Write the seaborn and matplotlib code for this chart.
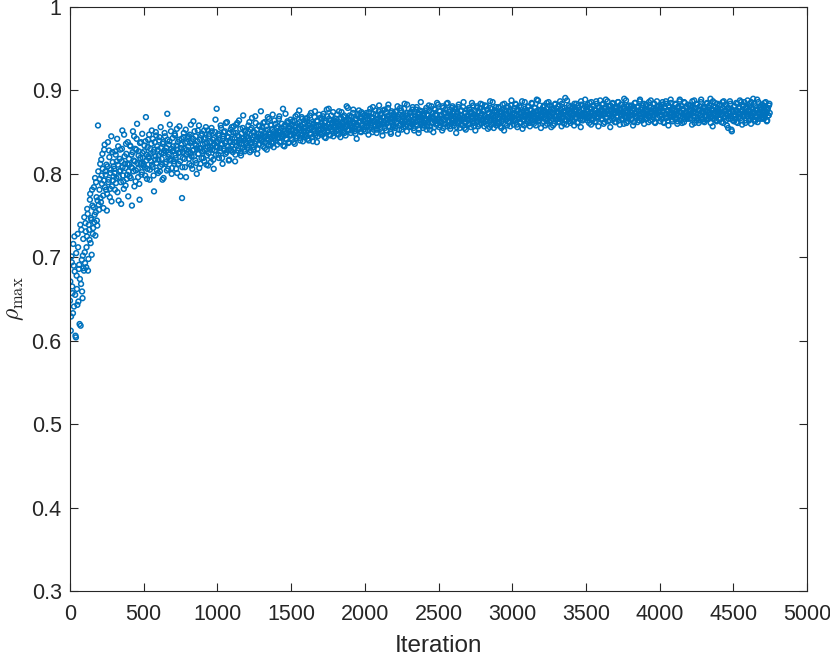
import numpy as np
import pandas as pd
import matplotlib
matplotlib.use("Agg")
import matplotlib.pyplot as plt
import seaborn as sns

# rho_max (in thousandths), one value every 5 iterations,
# first pass starting at iteration 0, second pass starting at iteration 2
step = 5
rho_0000 = [648, 612, 701, 665, 633, 690, 725, 655, 604, 678, 643, 712, 686, 620, 739, 668, 697, 651, 722, 684,
            706, 741, 688, 725, 752, 698, 733, 769, 717, 745, 781, 728, 760, 742, 795, 754, 772, 738, 858, 763,
            781, 812, 766, 798, 824, 774, 792, 835, 803, 781, 756, 809, 790, 828, 772, 801, 845, 785, 814, 797,
            806, 781, 823, 795, 842, 811, 768, 803, 829, 790, 815, 852, 798, 782, 821, 807, 836, 794, 812, 773,
            818, 797, 833, 808, 762, 826, 803, 845, 815, 791, 829, 860, 806, 822, 788, 837, 812, 799, 848, 819]
rho_0500 = [812, 834, 798, 868, 823, 806, 841, 819, 793, 830, 815, 852, 808, 826, 779, 838, 821, 846, 804, 829,
            817, 840, 803, 856, 825, 811, 836, 795, 828, 845, 814, 831, 872, 806, 823, 839, 818, 851, 800, 827,
            833, 815, 848, 822, 806, 854, 829, 812, 841, 826, 797, 835, 771, 819, 844, 830, 808, 853, 824, 838,
            826, 845, 812, 837, 859, 821, 806, 842, 829, 851, 816, 834, 800, 839, 824, 858, 830, 812, 846, 827,
            835, 819, 852, 828, 843, 811, 837, 852, 825, 848, 832, 814, 855, 829, 841, 806, 836, 850, 823, 878]
rho_1000 = [832, 848, 819, 841, 827, 855, 836, 812, 845, 830, 851, 824, 839, 862, 829, 844, 817, 838, 853, 833,
            842, 826, 857, 838, 815, 849, 834, 861, 828, 845, 837, 854, 822, 843, 831, 870, 840, 827, 852, 836,
            845, 831, 858, 840, 826, 853, 838, 867, 844, 829, 850, 836, 861, 842, 824, 848, 835, 857, 843, 875,
            840, 856, 833, 849, 862, 838, 845, 829, 853, 841, 866, 847, 834, 858, 844, 871, 837, 851, 843, 860,
            848, 835, 857, 843, 869, 850, 839, 855, 844, 878, 846, 833, 859, 849, 841, 863, 852, 838, 856, 847]
rho_1500 = [852, 841, 863, 848, 857, 836, 869, 851, 845, 860, 854, 876, 843, 858, 849, 866, 839, 855, 861, 847,
            856, 845, 867, 852, 840, 861, 849, 873, 855, 844, 859, 851, 868, 846, 857, 838, 863, 853, 871, 849,
            858, 847, 866, 854, 872, 850, 861, 843, 857, 869, 852, 878, 855, 846, 864, 851, 860, 874, 849, 862,
            855, 866, 848, 861, 853, 875, 858, 844, 867, 856, 862, 850, 870, 857, 846, 864, 859, 879, 852, 865,
            860, 849, 868, 856, 873, 861, 851, 865, 857, 842, 869, 858, 876, 854, 863, 850, 867, 859, 872, 856]
rho_2000 = [862, 851, 870, 858, 866, 847, 874, 860, 855, 868, 861, 880, 853, 864, 859, 871, 849, 866, 857, 875,
            863, 854, 872, 860, 846, 868, 859, 877, 864, 852, 869, 861, 883, 857, 866, 850, 873, 862, 856, 870,
            864, 855, 875, 861, 869, 848, 866, 858, 879, 863, 853, 871, 860, 867, 884, 857, 865, 851, 873, 862,
            866, 856, 874, 863, 859, 880, 865, 852, 870, 862, 877, 858, 868, 849, 872, 864, 886, 860, 867, 855,
            869, 858, 876, 864, 853, 871, 862, 882, 866, 857, 874, 861, 868, 850, 878, 863, 870, 859, 885, 865]
rho_2500 = [867, 856, 875, 862, 871, 852, 879, 865, 860, 873, 868, 884, 857, 870, 863, 877, 854, 869, 861, 881,
            866, 858, 874, 863, 849, 872, 861, 880, 867, 855, 876, 864, 870, 858, 886, 862, 873, 853, 869, 865,
            870, 859, 877, 864, 856, 874, 866, 882, 861, 871, 852, 868, 879, 863, 857, 875, 867, 884, 860, 872,
            865, 876, 857, 870, 863, 881, 868, 854, 873, 862, 887, 866, 859, 878, 869, 855, 874, 864, 880, 861,
            871, 860, 879, 866, 857, 875, 863, 883, 869, 852, 876, 865, 872, 858, 881, 867, 862, 877, 870, 888]
rho_3000 = [868, 876, 859, 872, 864, 883, 870, 856, 877, 866, 873, 861, 880, 869, 854, 875, 865, 886, 871, 860,
            874, 863, 881, 868, 857, 877, 870, 884, 862, 873, 866, 879, 858, 871, 867, 888, 864, 875, 869, 855,
            872, 861, 880, 867, 876, 858, 874, 885, 865, 871, 863, 882, 869, 856, 878, 866, 873, 860, 883, 870,
            869, 878, 862, 874, 866, 887, 871, 857, 880, 868, 875, 864, 891, 870, 859, 877, 867, 882, 873, 861,
            875, 864, 881, 870, 858, 877, 868, 884, 872, 862, 879, 869, 874, 856, 883, 871, 866, 878, 873, 889]
rho_3500 = [871, 880, 864, 875, 868, 885, 873, 859, 878, 867, 882, 870, 862, 876, 887, 869, 874, 857, 879, 872,
            876, 865, 883, 870, 860, 878, 872, 889, 867, 875, 863, 881, 871, 856, 877, 869, 884, 873, 866, 880,
            873, 862, 879, 868, 886, 874, 859, 877, 870, 883, 865, 872, 890, 868, 876, 861, 881, 874, 867, 878,
            870, 881, 866, 876, 858, 879, 872, 885, 869, 874, 862, 880, 871, 887, 867, 877, 864, 882, 873, 860,
            877, 866, 883, 871, 875, 862, 880, 869, 888, 873, 865, 878, 870, 884, 861, 876, 872, 881, 867, 874]
rho_4000 = [874, 863, 881, 870, 886, 876, 861, 879, 872, 884, 867, 875, 858, 880, 871, 889, 873, 865, 878, 869,
            876, 866, 883, 872, 860, 879, 870, 887, 874, 864, 881, 868, 877, 862, 885, 873, 869, 880, 866, 875,
            871, 882, 867, 876, 859, 880, 873, 888, 869, 878, 864, 883, 872, 861, 877, 870, 886, 874, 865, 879,
            873, 862, 880, 869, 884, 875, 866, 879, 871, 890, 868, 876, 857, 881, 872, 885, 870, 864, 878, 874,
            877, 865, 883, 871, 862, 879, 873, 887, 868, 876, 864, 881, 870, 855, 878, 872, 884, 866, 851, 875]
rho_4500 = [874, 863, 881, 870, 885, 876, 861, 879, 872, 888, 867, 875, 859, 882, 871, 886, 873, 864, 878, 869,
            876, 866, 884, 872, 860, 880, 870, 890, 874, 865, 881, 868, 877, 862, 886, 873, 869, 880, 866, 875,
            871, 882, 867, 876, 886, 873, 864, 879, 870, 884]

rho2_0000 = [671, 629, 694, 657, 716, 641, 683, 606, 705, 662, 728, 647, 691, 674, 618, 733, 659, 702, 687, 748,
             693, 731, 712, 758, 684, 739, 721, 776, 747, 703, 762, 735, 784, 751, 726, 790, 744, 768, 803, 757,
             794, 771, 817, 788, 806, 759, 829, 784, 799, 811, 776, 838, 793, 820, 782, 805, 767, 826, 792, 809,
             801, 827, 789, 815, 778, 833, 796, 818, 804, 764, 830, 808, 791, 847, 812, 786, 824, 799, 838, 803,
             811, 834, 795, 823, 807, 851, 816, 785, 830, 804, 842, 813, 796, 827, 769, 819, 838, 802, 825, 810]
rho2_0500 = [827, 808, 839, 816, 794, 832, 821, 847, 805, 824, 836, 811, 842, 798, 829, 817, 850, 813, 833, 801,
             822, 844, 809, 831, 818, 793, 838, 825, 849, 812, 827, 804, 841, 820, 835, 859, 816, 830, 807, 843,
             828, 812, 846, 819, 834, 801, 838, 825, 857, 815, 831, 842, 808, 826, 849, 818, 837, 796, 829, 844,
             833, 818, 847, 825, 810, 839, 828, 863, 821, 836, 845, 813, 830, 852, 824, 807, 841, 831, 819, 848,
             827, 842, 815, 836, 856, 822, 833, 810, 845, 829, 838, 820, 851, 834, 817, 843, 828, 865, 832, 839]
rho2_1000 = [838, 823, 846, 831, 858, 835, 819, 842, 850, 828, 837, 861, 826, 845, 833, 816, 849, 839, 828, 856,
             835, 850, 829, 843, 823, 859, 838, 846, 831, 864, 840, 825, 848, 836, 855, 843, 829, 851, 837, 845,
             849, 834, 843, 862, 837, 828, 855, 841, 850, 832, 846, 869, 839, 853, 830, 844, 858, 836, 847, 841,
             852, 838, 861, 845, 831, 848, 857, 842, 868, 835, 850, 844, 859, 837, 853, 846, 832, 864, 849, 840,
             855, 843, 850, 866, 838, 852, 845, 860, 848, 834, 857, 851, 872, 842, 849, 861, 837, 854, 846, 865]
rho2_1500 = [846, 859, 853, 838, 864, 850, 857, 843, 871, 848, 855, 862, 840, 852, 868, 846, 859, 851, 844, 866,
             851, 863, 842, 858, 854, 870, 847, 856, 862, 839, 860, 853, 875, 849, 857, 864, 845, 858, 852, 867,
             854, 861, 848, 869, 857, 844, 863, 855, 877, 850, 859, 866, 847, 856, 870, 853, 861, 845, 864, 858,
             862, 851, 871, 857, 847, 866, 859, 854, 874, 852, 860, 868, 849, 863, 856, 881, 858, 865, 853, 870,
             857, 869, 852, 863, 877, 855, 861, 848, 866, 859, 872, 854, 862, 867, 851, 874, 858, 864, 853, 870]
rho2_2000 = [865, 856, 873, 861, 852, 869, 864, 878, 858, 867, 850, 872, 862, 857, 876, 865, 853, 870, 861, 882,
             859, 871, 864, 851, 876, 862, 868, 855, 874, 860, 866, 879, 857, 870, 863, 848, 875, 866, 858, 872,
             868, 857, 874, 862, 881, 866, 853, 871, 860, 876, 864, 869, 856, 878, 863, 870, 859, 883, 867, 861,
             861, 873, 857, 869, 877, 862, 855, 874, 866, 859, 880, 864, 871, 853, 876, 868, 862, 875, 858, 870,
             872, 861, 866, 879, 857, 870, 864, 875, 853, 868, 881, 862, 873, 867, 856, 877, 864, 871, 860, 883]
rho2_2500 = [863, 875, 858, 870, 866, 881, 855, 872, 864, 877, 860, 869, 885, 862, 874, 857, 871, 866, 879, 864,
             872, 861, 878, 866, 856, 874, 869, 883, 863, 870, 859, 876, 865, 880, 868, 855, 873, 862, 877, 869,
             866, 879, 860, 873, 868, 885, 863, 871, 857, 876, 869, 862, 881, 866, 874, 859, 878, 870, 864, 883,
             875, 862, 870, 882, 865, 859, 877, 868, 872, 856, 879, 864, 871, 886, 867, 861, 876, 869, 858, 874,
             867, 880, 862, 874, 869, 855, 877, 866, 872, 884, 860, 871, 865, 879, 863, 874, 868, 857, 882, 866]
rho2_3000 = [872, 863, 879, 866, 884, 870, 859, 875, 868, 881, 862, 874, 867, 887, 865, 871, 858, 878, 869, 876,
             866, 880, 870, 861, 876, 872, 885, 864, 873, 860, 879, 868, 875, 889, 866, 871, 863, 882, 870, 877,
             869, 875, 863, 882, 871, 866, 878, 860, 873, 886, 868, 874, 864, 880, 872, 858, 877, 869, 884, 865,
             874, 866, 881, 870, 862, 877, 873, 884, 867, 871, 860, 879, 875, 865, 888, 869, 876, 863, 880, 872,
             867, 879, 871, 863, 884, 874, 868, 876, 861, 882, 870, 875, 866, 887, 872, 864, 878, 869, 881, 868]
rho2_3500 = [876, 867, 883, 872, 861, 879, 870, 886, 874, 865, 881, 869, 877, 863, 884, 873, 868, 880, 871, 888,
             870, 878, 866, 884, 873, 862, 880, 875, 868, 887, 871, 877, 864, 882, 874, 869, 885, 867, 876, 862,
             879, 869, 875, 886, 864, 877, 872, 883, 866, 874, 880, 860, 878, 871, 888, 868, 875, 863, 882, 870,
             874, 865, 882, 871, 878, 862, 885, 873, 867, 880, 870, 876, 864, 889, 872, 866, 879, 874, 884, 868,
             871, 883, 866, 877, 869, 886, 873, 864, 880, 875, 868, 884, 871, 862, 878, 873, 887, 867, 876, 881]
rho2_4000 = [869, 878, 866, 883, 874, 862, 880, 871, 887, 868, 876, 864, 882, 873, 869, 885, 877, 863, 879, 870,
             872, 884, 867, 876, 863, 881, 875, 889, 869, 873, 861, 878, 871, 886, 866, 880, 874, 868, 883, 870,
             877, 866, 882, 872, 887, 869, 875, 861, 879, 873, 884, 867, 876, 864, 881, 871, 889, 868, 875, 863,
             880, 870, 876, 865, 885, 873, 867, 882, 874, 861, 878, 869, 887, 872, 866, 880, 875, 863, 884, 871,
             873, 882, 866, 877, 870, 886, 861, 875, 868, 883, 872, 858, 879, 866, 874, 887, 869, 853, 877, 864]
rho2_4500 = [870, 881, 866, 876, 862, 884, 873, 868, 879, 871, 886, 864, 877, 869, 882, 874, 861, 880, 872, 888,
             875, 864, 881, 870, 886, 867, 878, 872, 884, 863, 876, 869, 889, 873, 866, 880, 871, 877, 883, 868,
             874, 866, 885, 871, 879, 863, 877, 870, 882, 873]

starts = [0, 500, 1000, 1500, 2000, 2500, 3000, 3500, 4000, 4500]
pass_1 = [rho_0000, rho_0500, rho_1000, rho_1500, rho_2000,
          rho_2500, rho_3000, rho_3500, rho_4000, rho_4500]
pass_2 = [rho2_0000, rho2_0500, rho2_1000, rho2_1500, rho2_2000,
          rho2_2500, rho2_3000, rho2_3500, rho2_4000, rho2_4500]

frames = []
for offset, block in [(0, pass_1), (2, pass_2)]:
    for start, vals in zip(starts, block):
        it = start + offset + step * np.arange(len(vals))
        frames.append(pd.DataFrame({"Iteration": it, "rho": np.array(vals) / 1000.0}))
df = pd.concat(frames, ignore_index=True).sort_values("Iteration")

sns.set_style("ticks")
plt.rcParams["font.family"] = ["Liberation Sans", "DejaVu Sans"]
plt.rcParams["mathtext.fontset"] = "cm"

fig = plt.figure(figsize=(8.3, 6.58), dpi=100)
ax = fig.add_axes([70 / 830, 67 / 658, 737 / 830, 584 / 658])

sns.scatterplot(data=df, x="Iteration", y="rho", ax=ax, marker="o", s=12, linewidth=1.1)
pts = ax.collections[0]
pts.set_facecolor("none")
pts.set_edgecolor("#0072BD")

ax.set_xlim(0, 5000)
ax.set_ylim(0.3, 1.0)
ax.set_xticks(np.arange(0, 5001, 500))
ax.set_yticks([0.3, 0.4, 0.5, 0.6, 0.7, 0.8, 0.9, 1.0])
ax.set_yticklabels(["0.3", "0.4", "0.5", "0.6", "0.7", "0.8", "0.9", "1"])

axis_col = "#262626"
for sp in ax.spines.values():
    sp.set_visible(True)
    sp.set_color(axis_col)
    sp.set_linewidth(0.8)
ax.tick_params(direction="in", top=True, right=True, length=5.5, width=0.8,
               color=axis_col, labelcolor=axis_col, labelsize=15.5)
ax.tick_params(axis="x", pad=9)
ax.tick_params(axis="y", pad=6)

ax.set_xlabel("Iteration", fontsize=17.5, color=axis_col, labelpad=7.5)
ax.set_ylabel(r"$\rho_{\max}$", fontsize=17, color=axis_col, labelpad=4)

fig.savefig("out.png", dpi=100)
